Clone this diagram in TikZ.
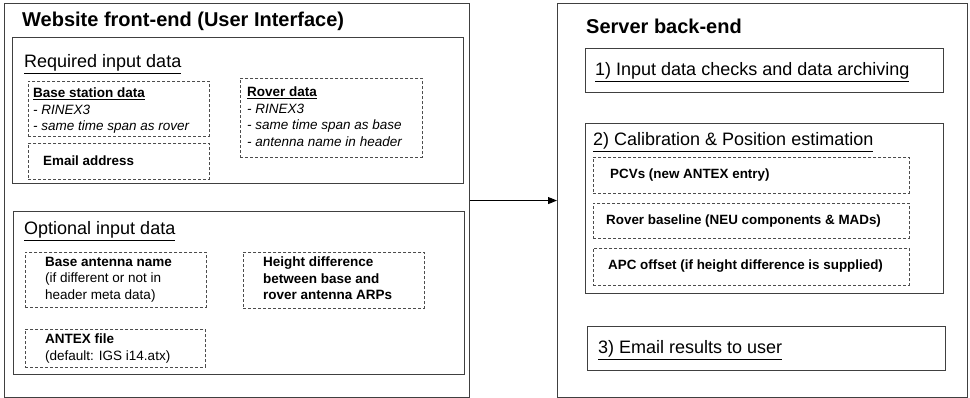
\documentclass[tikz,border=0pt]{standalone}
\usepackage{fontspec}
\setmainfont{Liberation Sans}
\usetikzlibrary{positioning, arrows.meta}

\tikzset{
  frame/.style={draw=black!75, line width=1.1pt, anchor=north west, inner sep=0pt},
  dashbox/.style={draw=black!70, line width=0.9pt, dash pattern=on 3pt off 2pt, anchor=north west, inner sep=0pt},
  heading/.style={anchor=west, inner sep=0pt, font=\fontsize{20}{22}\selectfont\bfseries},
  section/.style={anchor=west, inner sep=0pt, font=\fontsize{18}{21}\selectfont},
  entry/.style={anchor=north west, inner sep=0pt, align=left, font=\fontsize{13.5}{16.5}\selectfont},
  label/.style={anchor=west, inner sep=0pt, font=\fontsize{13.4}{16}\selectfont\bfseries},
}

\begin{document}
\begin{tikzpicture}[x=1pt, y=-1pt]
  \useasboundingbox (0,0) rectangle (970,398);

  % front-end
  \node[frame, minimum width=465pt, minimum height=394pt] (front) at (4,3) {};
  \node[heading] (fronttitle) at (22,21) {Website front-end (User Interface)};

  \node[frame, minimum width=451pt, minimum height=146pt] (required) at (12,37) {};
  \node[section] (requiredtitle) at (24,64) {\underline{Required input data}};
  \node[dashbox, minimum width=181pt, minimum height=55pt] (basebox) at (28,81) {};
  \node[entry] (basetext) at (33,88) {\textbf{\underline{Base station data}}\\
    \textit{- RINEX3}\\ \textit{- same time span as rover}};
  \node[dashbox, minimum width=181pt, minimum height=36pt] (emailbox) at (28,143) {};
  \node[label] (emailtext) at (43,161) {Email address};
  \node[dashbox, minimum width=182pt, minimum height=79pt] (roverbox) at (240,78) {};
  \node[entry] (rovertext) at (247,87) {\textbf{\underline{Rover data}}\\
    \textit{- RINEX3}\\ \textit{- same time span as base}\\ \textit{- antenna name in header}};

  \node[frame, minimum width=451pt, minimum height=163pt] (optional) at (13,211) {};
  \node[section] (optionaltitle) at (24,231) {\underline{Optional input data}};
  \node[dashbox, minimum width=181pt, minimum height=55pt] (antbox) at (25,252) {};
  \node[entry] (anttext) at (45,257) {\textbf{Base antenna name}\\
    (if different or not in\\ header meta data)};
  \node[dashbox, minimum width=181pt, minimum height=56pt] (heightbox) at (243,252) {};
  \node[entry, font=\fontsize{13.5}{16.5}\selectfont\bfseries] (heighttext) at (263,257)
    {Height difference\\ between base and\\ rover antenna ARPs};
  \node[dashbox, minimum width=180pt, minimum height=38pt] (atxbox) at (25,329) {};
  \node[entry] (atxtext) at (45,334) {\textbf{ANTEX file}\\ (default: IGS i14.atx)};

  % back-end
  \node[frame, minimum width=410pt, minimum height=394pt] (back) at (557,3) {};
  \node[heading] (backtitle) at (586,26) {Server back-end};

  \node[frame, minimum width=358pt, minimum height=44pt] (checks) at (585,48) {};
  \node[section] (checkstext) at (595,72) {\underline{1) Input data checks and data archiving}};

  \node[frame, minimum width=358pt, minimum height=170pt] (calib) at (585,123) {};
  \node[section] (calibtext) at (593,142) {\underline{2) Calibration \& Position estimation}};
  \node[dashbox, minimum width=316pt, minimum height=36pt] (pcvbox) at (593,157) {};
  \node[label] (pcvtext) at (610,175) {PCVs (new ANTEX entry)};
  \node[dashbox, minimum width=316pt, minimum height=35pt] (baselinebox) at (593,203) {};
  \node[label] (baselinetext) at (606,221) {Rover baseline (NEU components \& MADs)};
  \node[dashbox, minimum width=316pt, minimum height=37pt] (apcbox) at (593,248) {};
  \node[label] (apctext) at (608,266) {APC offset (if height difference is supplied)};

  \node[frame, minimum width=358pt, minimum height=44pt] (results) at (587,326) {};
  \node[section] (resultstext) at (598,350) {\underline{3) Email results to user}};

  \draw[-{Triangle[length=9pt,width=7pt]}, line width=1pt] (front.east) -- (back.west);
\end{tikzpicture}
\end{document}
